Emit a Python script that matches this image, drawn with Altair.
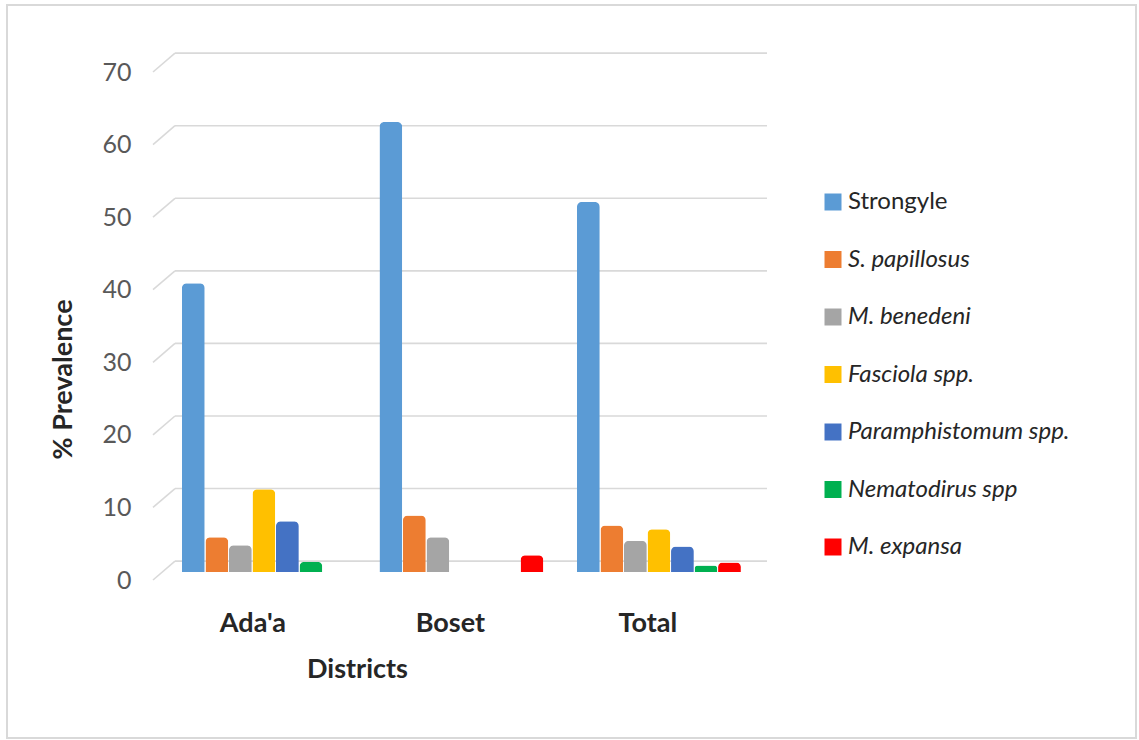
import altair as alt
import pandas as pd

districts = ["Ada'a", "Boset", "Total"]
species = ["Strongyle", "S. papillosus", "M. benedeni", "Fasciola spp.",
           "Paramphistomum spp.", "Nematodirus spp", "M. expansa"]
colors = ["#5B9BD5", "#ED7D31", "#A5A5A5", "#FFC000", "#4472C4", "#00B050", "#FF0000"]

strongyle = [39.8, 62.0, 51.0]
s_papillosus = [4.8, 7.8, 6.4]
m_benedeni = [3.7, 4.8, 4.3]
fasciola = [11.4, 0.0, 5.9]
paramphistomum = [7.0, 0.0, 3.5]
nematodirus = [1.4, 0.0, 0.9]
m_expansa = [0.0, 2.3, 1.3]

y_ticks = [0, 10, 20, 30, 40, 50, 60, 70]

series = [strongyle, s_papillosus, m_benedeni, fasciola, paramphistomum, nematodirus, m_expansa]
rows = []
for sp, vals in zip(species, series):
    for d, v in zip(districts, vals):
        rows.append({"District": d, "Species": sp, "Value": v})
df = pd.DataFrame(rows)
legend_df = pd.DataFrame({"Species": species})
ticks_df = pd.DataFrame({"tick": y_ticks})
frame_df = pd.DataFrame({"k": [0]})

FONT = "Lato"
yscale = alt.Scale(domain=[0, 70], nice=False, zero=True)
yaxis = alt.Axis(values=y_ticks, title="% Prevalence", grid=False, domain=False,
                 ticks=False, labelPadding=32, labelFont=FONT, labelFontSize=25,
                 labelColor="#595959", titleFont=FONT, titleFontSize=27,
                 titleFontWeight="bold", titleColor="#262626",
                 titleX=-100, titleY=307, titleAlign="center",
                 titleBaseline="middle", titleAngle=270)

grid = alt.Chart(ticks_df).transform_calculate(gy="datum.tick + 2.6").mark_rule(
    color="#d9d9d9", strokeWidth=1.6
).encode(
    x=alt.value(12), x2=alt.value(604),
    y=alt.Y("gy:Q", scale=yscale, axis=None),
)

diag = alt.Chart(ticks_df).transform_calculate(gy="datum.tick + 2.6").mark_rule(
    color="#d9d9d9", strokeWidth=1.6
).encode(
    x=alt.value(-10), x2=alt.value(12),
    y=alt.Y("tick:Q", scale=yscale, axis=yaxis),
    y2="gy:Q",
)

# bars stand on the floor, slightly above the front baseline
bar_scale = alt.Scale(domain=[0, 70], nice=False, zero=True, range=[500, -8])
bars = alt.Chart(df).mark_bar(cornerRadiusEnd=5).encode(
    x=alt.X("District:N", sort=districts,
            scale=alt.Scale(paddingInner=0.17, paddingOuter=0.114, align=0.42),
            axis=alt.Axis(title="Districts", labelAngle=0, domain=False, ticks=False,
                          grid=False, labelPadding=30, labelOffset=-11, labelFont=FONT,
                          labelFontSize=27, labelFontWeight="bold", labelColor="#262626",
                          titleFont=FONT, titleFontSize=27, titleFontWeight="bold",
                          titleColor="#262626", titleX=194, titleY=89,
                          titleAlign="center", titleBaseline="middle")),
    xOffset=alt.XOffset("Species:N", sort=species, scale=alt.Scale(paddingInner=0.03, paddingOuter=0)),
    y=alt.Y("Value:Q", scale=bar_scale, axis=None),
    color=alt.Color("Species:N", sort=species, scale=alt.Scale(domain=species, range=colors), legend=None),
)

lscale = alt.Scale(domain=species, range=[130, 475], padding=0)
leg_sq = alt.Chart(legend_df).mark_square(size=289, opacity=1).encode(
    x=alt.value(670),
    y=alt.Y("Species:N", sort=species, scale=lscale, axis=None),
    color=alt.Color("Species:N", sort=species, scale=alt.Scale(domain=species, range=colors), legend=None),
)
leg_txt_plain = alt.Chart(legend_df).transform_filter(
    alt.datum.Species == "Strongyle"
).mark_text(align="left", baseline="middle", font=FONT, fontSize=24, color="#262626").encode(
    x=alt.value(685),
    y=alt.Y("Species:N", sort=species, scale=lscale, axis=None),
    text="Species:N",
)
leg_txt_it = alt.Chart(legend_df).transform_filter(
    alt.datum.Species != "Strongyle"
).mark_text(align="left", baseline="middle", font=FONT, fontSize=24, fontStyle="italic",
            color="#262626").encode(
    x=alt.value(685),
    y=alt.Y("Species:N", sort=species, scale=lscale, axis=None),
    text="Species:N",
)

frame = alt.Chart(frame_df).mark_rect(fill=None, stroke="#d9d9d9", strokeWidth=2).encode(
    x=alt.value(-156), x2=alt.value(973), y=alt.value(-67), y2=alt.value(666),
)

main = alt.layer(grid, diag, bars).resolve_scale(y="independent")
legend = alt.layer(leg_sq, leg_txt_plain, leg_txt_it)

chart = alt.layer(frame, main, legend).resolve_scale(y="independent", color="independent").properties(
    width=604, height=508,
    background="white",
    autosize=alt.AutoSizeParams(type="none"),
    padding={"left": 163, "top": 72, "right": 372, "bottom": 160},
).configure_view(stroke=None, strokeWidth=0)

chart.save("out.html", embed_options={"renderer": "svg", "actions": False})
